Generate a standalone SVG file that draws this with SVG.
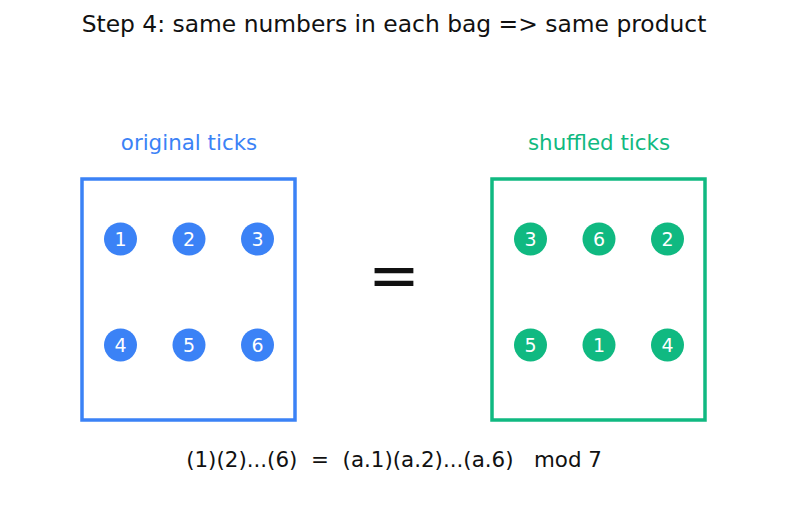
<svg xmlns="http://www.w3.org/2000/svg" width="787" height="510" viewBox="0 0 787 510">
<style>
text{font-family:"DejaVu Sans","Liberation Sans",sans-serif;}
.title{font-size:23.4px;fill:#111111;text-anchor:middle;}
.lab{font-size:21.4px;text-anchor:middle;}
.num{font-size:19px;fill:#ffffff;text-anchor:middle;}
.blue{fill:#3b82f6;}
.green{fill:#10b981;}
.box{fill:none;stroke-width:3.5;}
</style>
<rect width="787" height="510" fill="#ffffff"/>
<text class="title" x="394" y="32">Step 4: same numbers in each bag =&gt; same product</text>
<g id="original">
<text class="lab blue" x="189" y="150">original ticks</text>
<rect class="box" x="82" y="179" width="213" height="241" stroke="#3b82f6"/>
<g class="blue">
<circle cx="120.5" cy="239" r="16.5"/><circle cx="189" cy="239" r="16.5"/><circle cx="257.5" cy="239" r="16.5"/>
<circle cx="120.5" cy="345" r="16.5"/><circle cx="189" cy="345" r="16.5"/><circle cx="257.5" cy="345" r="16.5"/>
</g>
<text class="num" x="120.5" y="245.8">1</text><text class="num" x="189" y="245.8">2</text><text class="num" x="257.5" y="245.8">3</text>
<text class="num" x="120.5" y="351.8">4</text><text class="num" x="189" y="351.8">5</text><text class="num" x="257.5" y="351.8">6</text>
</g>
<g id="equals">
<text x="394" y="297" font-size="62" text-anchor="middle" fill="#111111">=</text>
</g>
<g id="shuffled">
<text class="lab green" x="599" y="150">shuffled ticks</text>
<rect class="box" x="492" y="179" width="213" height="241" stroke="#10b981"/>
<g class="green">
<circle cx="530.5" cy="239" r="16.5"/><circle cx="599" cy="239" r="16.5"/><circle cx="667.5" cy="239" r="16.5"/>
<circle cx="530.5" cy="345" r="16.5"/><circle cx="599" cy="345" r="16.5"/><circle cx="667.5" cy="345" r="16.5"/>
</g>
<text class="num" x="530.5" y="245.8">3</text><text class="num" x="599" y="245.8">6</text><text class="num" x="667.5" y="245.8">2</text>
<text class="num" x="530.5" y="351.8">5</text><text class="num" x="599" y="351.8">1</text><text class="num" x="667.5" y="351.8">4</text>
</g>
<g id="connectors"></g>
<text x="394" y="467" font-size="21.4" text-anchor="middle" fill="#111111" xml:space="preserve" style="white-space:pre">(1)(2)...(6)  =  (a.1)(a.2)...(a.6)   mod 7</text>
</svg>
